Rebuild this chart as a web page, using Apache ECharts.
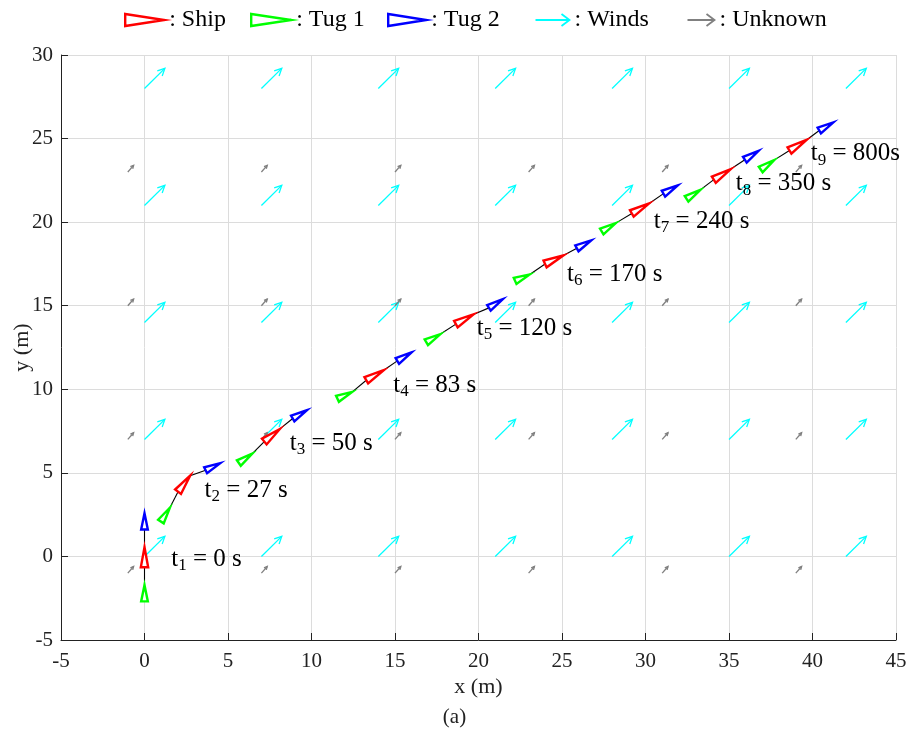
<!DOCTYPE html>
<html>
<head>
<meta charset="utf-8">
<script src="https://cdn.jsdelivr.net/npm/echarts@6/dist/echarts.min.js"></script>
<style>html,body{margin:0;padding:0;background:#fff}#c{width:909px;height:732px}</style>
</head>
<body>
<div id="c"></div>
<script>
// ---- data ----
const xTicks = [-5, 0, 5, 10, 15, 20, 25, 30, 35, 40, 45];
const yTicks = [-5, 0, 5, 10, 15, 20, 25, 30];
const timeLabels = ['0 s', '27 s', '50 s', '83 s', '120 s', '170 s', '240 s', '350 s', '800s'];
const legendNames = ['Ship', 'Tug 1', 'Tug 2', 'Winds', 'Unknown'];

const shipX = [0, 2.37, 7.64, 13.8, 19.17, 24.53, 29.7, 34.6, 39.13];
const shipY = [-0.05, 4.35, 7.25, 10.84, 14.19, 17.75, 20.82, 22.86, 24.6];
const shipHeading = [90, 53, 39, 30, 29, 25, 30, 32, 32];

const tug1X = [0, 1.25, 6.05, 12.0, 17.3, 22.64, 27.8, 32.87, 37.3];
const tug1Y = [-2.2, 2.5, 5.87, 9.64, 13.06, 16.68, 19.69, 21.66, 23.43];
const tug1Heading = [90, 57, 35, 25, 30, 24, 31, 33, 35];

const tug2X = [0, 4.1, 9.3, 15.56, 21.04, 26.32, 31.5, 36.36, 40.83];
const tug2Y = [2.1, 5.37, 8.5, 11.95, 15.13, 18.67, 21.95, 24.0, 25.73];
const tug2Heading = [90, 26, 30, 31, 32, 29, 30, 33, 30];

const labelX = [1.6, 3.6, 8.7, 14.9, 19.9, 25.3, 30.5, 35.4, 39.9];
const labelY = [-0.18, 3.95, 6.77, 10.24, 13.65, 16.9, 20.05, 22.3, 24.1];

const windX = [0, 7, 14, 21, 28, 35, 42];
const windY = [0, 7, 14, 21, 28];
const windU = 1.22, windV = 1.2;

const unkX = [-1, 7, 15, 23, 31, 39];
const unkY = [-1, 7, 15, 23];
const unkU = 0.35, unkV = 0.4;

// ---- sizes / styles ----
const SHIP_LEN = 1.2, SHIP_W = 0.44;
const TUG_LEN = 0.98, TUG_W = 0.4;
const FONT = '"Liberation Serif", "Times New Roman", serif';
const COLORS = { 'Ship': '#ff0000', 'Tug 1': '#00ff00', 'Tug 2': '#0000ff', 'Winds': '#00ffff', 'Unknown': '#808080' };
const LEGEND_LEFT = [119, 245, 382, 528, 680];
const LEGEND_ICON_W = [39, 40, 38, 34, 27];

function gridPoints(xs, ys) {
  const out = [];
  ys.forEach(y => xs.forEach(x => out.push([x, y])));
  return out;
}

function triPts(cx, cy, hd, L, W) {
  const a = hd * Math.PI / 180;
  const dx = Math.cos(a), dy = Math.sin(a);
  const px = -dy, py = dx;
  const apex = [cx + dx * L / 2, cy + dy * L / 2];
  const bx = cx - dx * L / 2, by = cy - dy * L / 2;
  return { apex: apex, base: [bx, by],
    b1: [bx + px * W / 2, by + py * W / 2], b2: [bx - px * W / 2, by - py * W / 2] };
}

function arrowRender(u, v, headFrac, color, lw) {
  return function (params, api) {
    const x = api.value(0), y = api.value(1);
    const p0 = api.coord([x, y]);
    const p1 = api.coord([x + u, y + v]);
    const ang = Math.atan2(p1[1] - p0[1], p1[0] - p0[0]);
    const len = Math.hypot(p1[0] - p0[0], p1[1] - p0[1]);
    const h = len * headFrac;
    const a1 = ang + Math.PI - 0.45, a2 = ang + Math.PI + 0.45;
    return { type: 'group', children: [
      { type: 'line', shape: { x1: p0[0], y1: p0[1], x2: p1[0], y2: p1[1] }, style: { stroke: color, lineWidth: lw } },
      { type: 'polyline', shape: { points: [[p1[0] + h * Math.cos(a1), p1[1] + h * Math.sin(a1)], p1, [p1[0] + h * Math.cos(a2), p1[1] + h * Math.sin(a2)]] },
        style: { stroke: color, fill: null, lineWidth: lw } }
    ] };
  };
}

function triRender(L, W, color) {
  return function (params, api) {
    const t = triPts(api.value(0), api.value(1), api.value(2), L, W);
    const pts = [t.apex, t.b1, t.b2].map(p => api.coord(p));
    return { type: 'polygon', shape: { points: pts },
      style: { fill: '#fff', stroke: color, lineWidth: 2.4, lineJoin: 'miter' } };
  };
}

const agentData = (xs, ys, hs) => xs.map((x, i) => [x, ys[i], hs[i]]);
const towData = shipX.map((x, i) => [tug1X[i], tug1Y[i], tug1Heading[i], x, shipY[i], shipHeading[i], tug2X[i], tug2Y[i], tug2Heading[i]]);
const labelData = labelX.map((x, i) => [x, labelY[i], i]);

function legendFor(name, i) {
  const isArrow = name === 'Winds' || name === 'Unknown';
  const w = LEGEND_ICON_W[i];
  const icon = isArrow
    ? 'path://M0,6L' + w + ',6M' + (w - 8) + ',0L' + w + ',6L' + (w - 8) + ',12'
    : 'path://M0,0L' + w + ',6L0,12Z';
  return {
    top: 3, left: LEGEND_LEFT[i], itemWidth: w, itemHeight: 12, selectedMode: false,
    textStyle: { fontFamily: FONT, fontSize: 24, color: '#000' },
    formatter: n => ': ' + n,
    data: [{ name: name, icon: icon,
      itemStyle: isArrow ? { color: 'none', borderColor: COLORS[name], borderWidth: 1.8 }
                         : { color: '#fff', borderColor: COLORS[name], borderWidth: 2.4 } }]
  };
}

const chart = echarts.init(document.getElementById('c'), null, { renderer: 'canvas' });
chart.setOption({
  animation: false,
  backgroundColor: '#fff',
  grid: { left: 61, right: 13, top: 55, bottom: 92, containLabel: false, outerBoundsMode: 'none' },
  legend: legendNames.map(legendFor),
  xAxis: {
    type: 'value', min: xTicks[0], max: xTicks[xTicks.length - 1], interval: 5,
    name: 'x (m)', nameLocation: 'middle', nameGap: 36, nameMoveOverlap: false,
    nameTextStyle: { fontFamily: FONT, fontSize: 22, color: '#222' },
    axisLine: { show: true, onZero: false, lineStyle: { color: '#222', width: 1 } },
    axisTick: { show: true, inside: true, length: 7, lineStyle: { color: '#222' } },
    axisLabel: { margin: 11, fontFamily: FONT, fontSize: 21, color: '#222' },
    splitLine: { show: true, lineStyle: { color: '#dcdcdc', width: 1 } }
  },
  yAxis: {
    type: 'value', min: yTicks[0], max: yTicks[yTicks.length - 1], interval: 5,
    name: 'y (m)', nameLocation: 'middle', nameGap: 28, nameRotate: 90, nameMoveOverlap: false,
    nameTextStyle: { fontFamily: FONT, fontSize: 22, color: '#222' },
    axisLine: { show: true, onZero: false, lineStyle: { color: '#222', width: 1 } },
    axisTick: { show: true, inside: true, length: 7, lineStyle: { color: '#222' } },
    axisLabel: { margin: 8, fontFamily: FONT, fontSize: 21, color: '#222' },
    splitLine: { show: true, lineStyle: { color: '#dcdcdc', width: 1 } }
  },
  graphic: [
    { type: 'text', left: 'center', top: 707, style: { text: '(a)', fontFamily: FONT, fontSize: 21, fill: '#222' } }
  ],
  series: [
    { name: 'Winds', type: 'custom', data: gridPoints(windX, windY), itemStyle: { color: COLORS['Winds'] },
      renderItem: arrowRender(windU, windV, 0.28, COLORS['Winds'], 1.3), z: 2 },
    { name: 'Unknown', type: 'custom', data: gridPoints(unkX, unkY), itemStyle: { color: COLORS['Unknown'] },
      renderItem: arrowRender(unkU, unkV, 0.4, COLORS['Unknown'], 1.3), z: 2 },
    { name: 'tow', type: 'custom', data: towData, z: 3,
      renderItem: function (params, api) {
        const g = triPts(api.value(0), api.value(1), api.value(2), TUG_LEN, TUG_W);
        const s = triPts(api.value(3), api.value(4), api.value(5), SHIP_LEN, SHIP_W);
        const b = triPts(api.value(6), api.value(7), api.value(8), TUG_LEN, TUG_W);
        return { type: 'group', children: [
          { type: 'polyline', shape: { points: [api.coord(g.apex), api.coord(s.base)] }, style: { stroke: '#000', lineWidth: 1.1, fill: null } },
          { type: 'polyline', shape: { points: [api.coord(s.apex), api.coord(b.base)] }, style: { stroke: '#000', lineWidth: 1.1, fill: null } }
        ] };
      } },
    { name: 'Tug 1', type: 'custom', data: agentData(tug1X, tug1Y, tug1Heading), itemStyle: { color: COLORS['Tug 1'] },
      renderItem: triRender(TUG_LEN, TUG_W, COLORS['Tug 1']), z: 4 },
    { name: 'Ship', type: 'custom', data: agentData(shipX, shipY, shipHeading), itemStyle: { color: COLORS['Ship'] },
      renderItem: triRender(SHIP_LEN, SHIP_W, COLORS['Ship']), z: 4 },
    { name: 'Tug 2', type: 'custom', data: agentData(tug2X, tug2Y, tug2Heading), itemStyle: { color: COLORS['Tug 2'] },
      renderItem: triRender(TUG_LEN, TUG_W, COLORS['Tug 2']), z: 4 },
    { name: 'labels', type: 'custom', data: labelData, z: 5, clip: false,
      renderItem: function (params, api) {
        const p = api.coord([api.value(0), api.value(1)]);
        const i = api.value(2);
        return { type: 'text', style: {
          x: p[0], y: p[1], align: 'left', verticalAlign: 'middle',
          text: '{m|t}{s|' + (i + 1) + '}{m| = ' + timeLabels[i] + '}',
          rich: {
            m: { fontFamily: FONT, fontSize: 25, lineHeight: 30, color: '#111' },
            s: { fontFamily: FONT, fontSize: 17, lineHeight: 15, verticalAlign: 'bottom', color: '#111' }
          }
        } };
      } }
  ]
});
</script>
</body>
</html>
